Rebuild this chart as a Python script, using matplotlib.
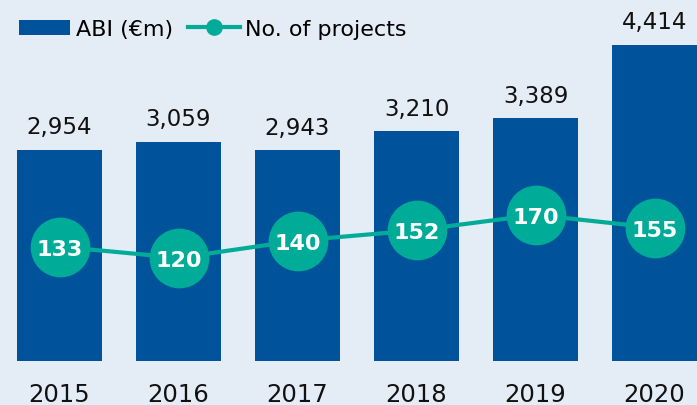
import matplotlib
matplotlib.use('Agg')
import matplotlib.pyplot as plt
from matplotlib.lines import Line2D

years = ['2015', '2016', '2017', '2018', '2019', '2020']
abi = [2954, 3059, 2943, 3210, 3389, 4414]
projects = [133, 120, 140, 152, 170, 155]

bg = '#E4ECF6'
blue = '#00529B'
teal = '#00AC98'

plt.rcParams['font.family'] = ['DejaVu Sans']

fig = plt.figure(figsize=(6.97, 4.06), dpi=100)
fig.patch.set_facecolor(bg)
ax = fig.add_axes([0, 44 / 406, 1, 362 / 406])
ax.set_facecolor(bg)
x = list(range(len(years)))
bars = ax.bar(x, abi, width=0.714, color=blue, label='ABI (€m)', zorder=2)
ax.set_xlim(-0.5, 5.357)
ax.set_ylim(0, 5057)
for xi, v in zip(x, abi):
    ax.annotate(f'{v:,}', (xi, v), xytext=(0, 12), textcoords='offset points',
                ha='center', va='baseline', fontsize=16.5, color='#111111')
ax.set_xticks(x)
ax.set_xticklabels(years, fontsize=17.5, color='#111111')
ax.tick_params(axis='x', length=0, pad=15)
ax.set_yticks([])
for s in ax.spines.values():
    s.set_visible(False)

ax2 = ax.twinx()
ax2.set_ylim(0, 421)
ax2.set_yticks([])
for s in ax2.spines.values():
    s.set_visible(False)
ax2.plot(x, projects, color=teal, linewidth=3, zorder=3)
ax2.plot(x, projects, 'o', color=teal, markersize=42, zorder=4)
for xi, v in zip(x, projects):
    ax2.text(xi, v, str(v), ha='center', va='center_baseline', fontsize=16,
             fontweight='bold', color='white', zorder=5)

h_line = Line2D([], [], color=teal, linewidth=3, marker='o', markersize=11)
fig.legend([bars, h_line], ['ABI (€m)', 'No. of projects'], loc='upper left',
           bbox_to_anchor=(8 / 697, 1 - 9 / 406), ncol=2, frameon=False,
           fontsize=16, handlelength=2.3, handletextpad=0.25,
           columnspacing=0.7, borderpad=0)

fig.savefig('out.png', dpi=100, facecolor=bg)
